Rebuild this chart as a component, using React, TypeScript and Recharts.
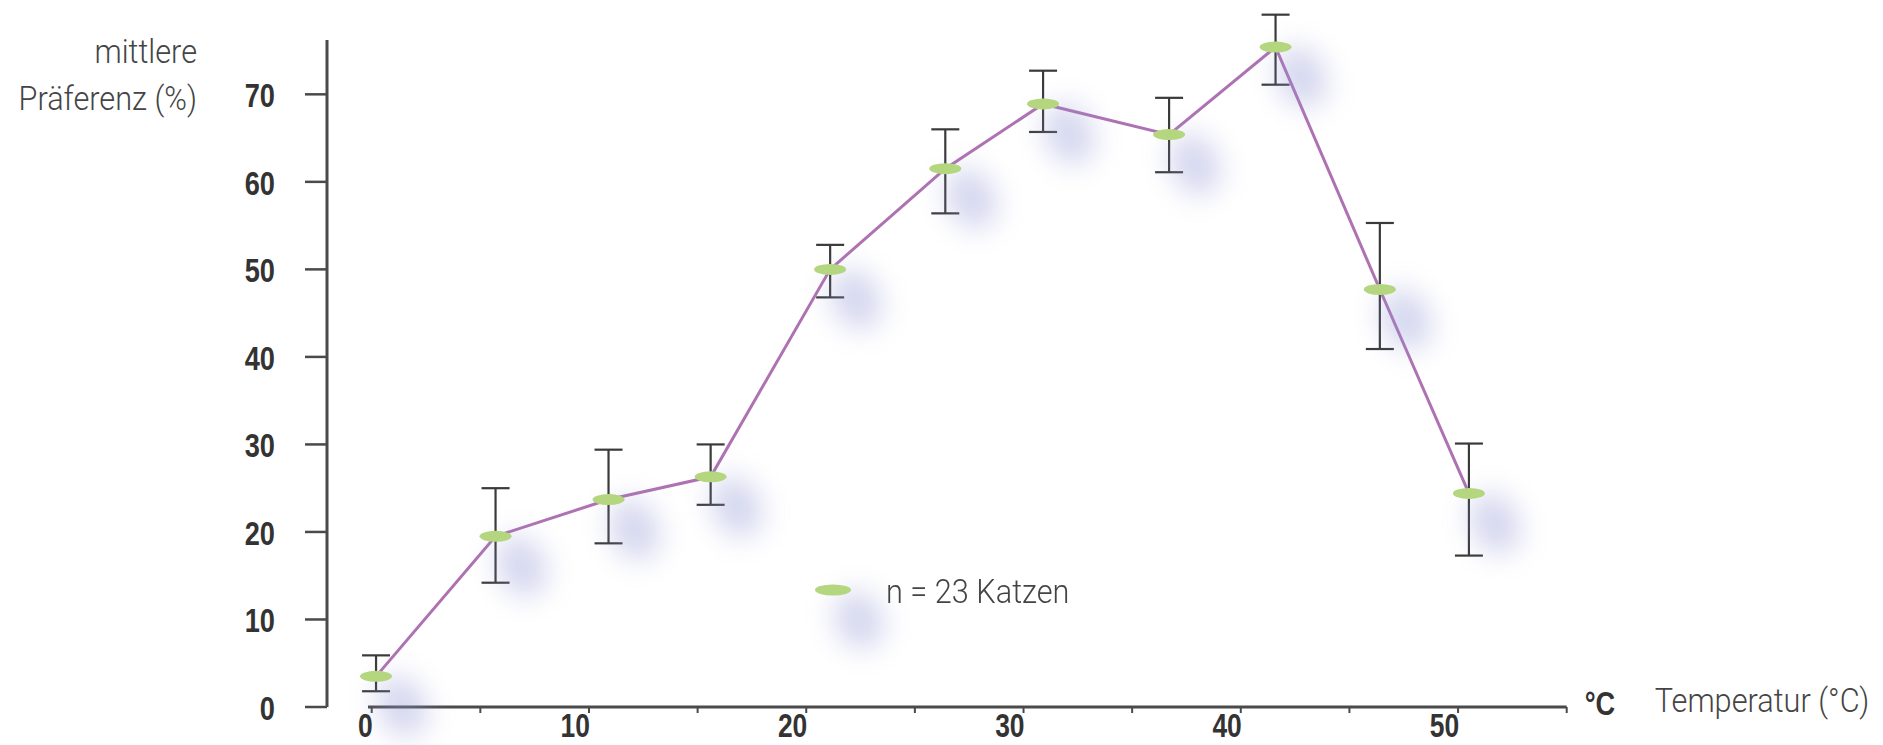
import React from "react";
import { LineChart, Line, XAxis, YAxis, ErrorBar, Legend, Label } from "recharts";

// ---- data ----
const temps = [0.2, 5.7, 10.9, 15.6, 21.1, 26.4, 30.9, 36.7, 41.6, 46.4, 50.5];
const means = [3.5, 19.5, 23.7, 26.3, 50.0, 61.5, 68.9, 65.4, 75.4, 47.7, 24.4];
const upper = [5.9, 25.0, 29.4, 30.0, 52.8, 66.0, 72.7, 69.6, 79.1, 55.3, 30.1];
const lower = [1.8, 14.2, 18.7, 23.1, 46.8, 56.4, 65.7, 61.1, 71.1, 40.9, 17.3];
const xTicks = [0, 5, 10, 15, 20, 25, 30, 35, 40, 45, 50, 55];
const xLabelled = [0, 10, 20, 30, 40, 50];
const yTicks = [0, 10, 20, 30, 40, 50, 60, 70];
const seriesName = "n = 23 Katzen";
const yTitle = ["mittlere", "Präferenz (%)"];
const xUnit = "°C";
const xTitle = "Temperatur (°C)";

const data = temps.map((t, i) => ({
  t,
  mean: means[i],
  err: [means[i] - lower[i], upper[i] - means[i]],
}));

const BOLD_FONT = "'Liberation Sans', Arial, sans-serif";
const LIGHT_FONT = "Roboto, 'Liberation Sans', Arial, sans-serif";
const SQUEEZE_BOLD = 0.8;
const SQUEEZE_LIGHT = 0.93;
const GREEN = "#b3d67f";
const PURPLE = "#ae72b2";
const AXIS = "#4a4a4a";

const NText = ({ x, y, anchor = "start", size, bold = false, fill, children }: any) => (
  <g transform={`translate(${x},${y}) scale(${bold ? SQUEEZE_BOLD : SQUEEZE_LIGHT},1)`}>
    <text
      x={0}
      y={0}
      textAnchor={anchor}
      fontFamily={bold ? BOLD_FONT : LIGHT_FONT}
      fontWeight={bold ? 700 : 300}
      fontSize={size}
      fill={fill}
    >
      {children}
    </text>
  </g>
);

const ShadowDot = (p: any) => {
  const { cx, cy, index } = p;
  if (cx == null || cy == null) return <g key={`s${index}`} />;
  const id = `blur-${index}`;
  return (
    <g key={`s${index}`}>
      <defs>
        <filter id={id} x="-150%" y="-150%" width="400%" height="400%">
          <feGaussianBlur stdDeviation="14" />
        </filter>
      </defs>
      <ellipse
        cx={cx + 26}
        cy={cy + 30}
        rx={24}
        ry={32}
        transform={`rotate(-25 ${cx + 26} ${cy + 30})`}
        fill="#8f96d4"
        opacity={0.38}
        filter={`url(#${id})`}
      />
    </g>
  );
};

const MarkerDot = (p: any) => {
  const { cx, cy, index } = p;
  if (cx == null || cy == null) return <g key={`m${index}`} />;
  return <ellipse key={`m${index}`} cx={cx} cy={cy} rx={16} ry={5.5} fill={GREEN} />;
};

const XTick = (p: any) => {
  const { x, y, payload } = p;
  if (!xLabelled.includes(payload.value)) return <g />;
  return (
    <NText x={x + 1} y={y + 22} anchor="end" size={33} bold fill="#333">
      {payload.value}
    </NText>
  );
};

const YTick = (p: any) => {
  const { x, y, payload } = p;
  return (
    <NText x={x} y={y + 13} anchor="end" size={34} bold fill="#333">
      {payload.value}
    </NText>
  );
};

const YTitle = (p: any) => {
  const vb = p.viewBox || { x: 0, y: 0, width: 0 };
  const right = vb.x + vb.width - 130;
  return (
    <g>
      <NText x={right} y={vb.y + 56.5} anchor="end" size={33} fill="#444">
        {yTitle[0]}
      </NText>
      <NText x={right} y={vb.y + 103.5} anchor="end" size={33} fill="#444">
        {yTitle[1]}
      </NText>
    </g>
  );
};

const XTitle = (p: any) => {
  const vb = p.viewBox || { x: 0, y: 0, width: 0 };
  const end = vb.x + vb.width;
  return (
    <g>
      <NText x={end + 18} y={vb.y + 8} size={34} bold fill="#333">
        {xUnit}
      </NText>
      <NText x={end + 88} y={vb.y + 5} size={33} fill="#444">
        {xTitle}
      </NText>
    </g>
  );
};

const LegendContent = (props: any) => {
  const items = (props.payload || []).filter((e: any) => e.value === seriesName);
  return (
    <div style={{ position: "relative", width: 0, height: 0 }}>
      {items.map((e: any) => (
        <div key={e.value} style={{ position: "absolute", left: 790, top: 560, width: 320, height: 80 }}>
          <svg width={120} height={90} style={{ position: "absolute", left: 0, top: 0, overflow: "visible" }}>
            <defs>
              <filter id="legblur" x="-150%" y="-150%" width="400%" height="400%">
                <feGaussianBlur stdDeviation="14" />
              </filter>
            </defs>
            <ellipse
              cx={69}
              cy={60}
              rx={24}
              ry={30}
              transform="rotate(-25 69 60)"
              fill="#8f96d4"
              opacity={0.38}
              filter="url(#legblur)"
            />
            <ellipse cx={43} cy={30} rx={18} ry={5.5} fill={GREEN} />
          </svg>
          <span
            style={{
              position: "absolute",
              left: 96,
              top: 12,
              fontFamily: LIGHT_FONT,
              fontWeight: 300,
              fontSize: 33,
              color: "#444",
              whiteSpace: "nowrap",
              lineHeight: "40px",
              transform: `scaleX(${SQUEEZE_LIGHT})`,
              transformOrigin: "left center",
            }}
          >
            {e.value}
          </span>
        </div>
      ))}
    </div>
  );
};

export default function App() {
  return (
    <div style={{ position: "absolute", left: 0, top: 0, width: 1883, height: 745, background: "#fff" }}>
      <LineChart width={1883} height={745} data={data} margin={{ top: 6.8, right: 316.3, bottom: 0, left: 0 }}>
        <XAxis
          type="number"
          dataKey="t"
          domain={[0, 55]}
          ticks={xTicks}
          interval={0}
          padding={{ left: 44.7, right: 0 }}
          height={38}
          tickSize={6}
          axisLine={{ stroke: AXIS, strokeWidth: 3, strokeDasharray: "0 41 3000" }}
          tickLine={{ stroke: AXIS, strokeWidth: 2 }}
          tick={<XTick />}
        >
          <Label content={<XTitle />} />
        </XAxis>
        <YAxis
          type="number"
          domain={[0, 80]}
          ticks={yTicks}
          interval={0}
          width={327}
          tickSize={22}
          tickMargin={30}
          axisLine={{ stroke: AXIS, strokeWidth: 3, strokeDasharray: "0 33.2 3000" }}
          tickLine={{ stroke: AXIS, strokeWidth: 2.5 }}
          tick={<YTick />}
        >
          <Label content={<YTitle />} />
        </YAxis>
        <Legend
          content={<LegendContent />}
          wrapperStyle={{ position: "absolute", left: 0, top: 0, width: 0, height: 0 }}
        />
        <Line
          dataKey="mean"
          name="shadow"
          legendType="none"
          stroke="none"
          dot={ShadowDot}
          activeDot={false}
          isAnimationActive={false}
        />
        <Line
          dataKey="mean"
          name={seriesName}
          stroke={PURPLE}
          strokeWidth={3}
          dot={MarkerDot}
          activeDot={false}
          isAnimationActive={false}
        >
          <ErrorBar dataKey="err" direction="y" width={14} stroke="#3a3a3a" strokeWidth={2.2} />
        </Line>
      </LineChart>
    </div>
  );
}
